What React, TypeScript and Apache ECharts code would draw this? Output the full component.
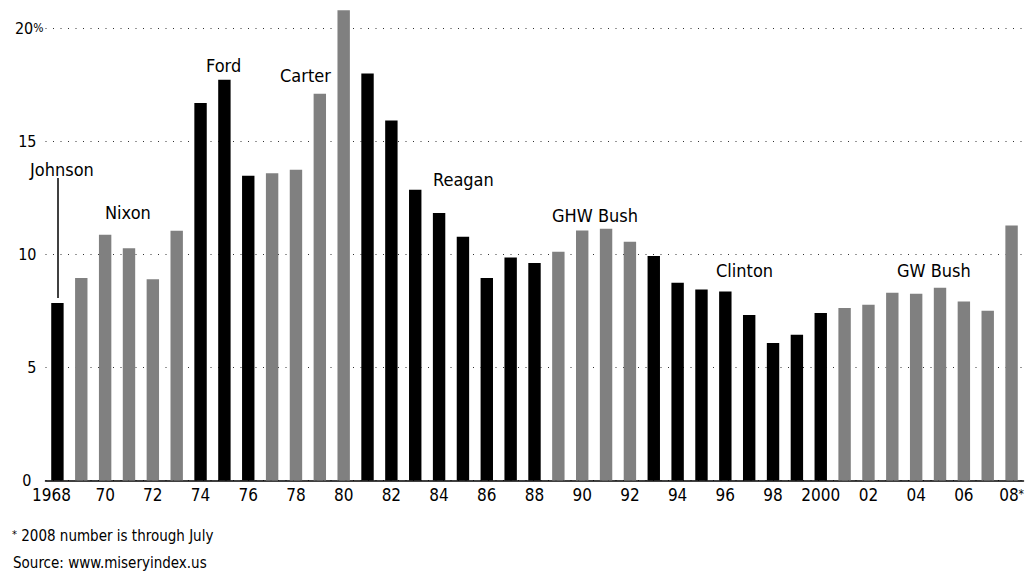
import React, { useEffect, useRef } from 'react';
import * as echarts from 'echarts';

const years = [
  '1968', '1969', '1970', '1971', '1972', '1973', '1974', '1975', '1976', '1977',
  '1978', '1979', '1980', '1981', '1982', '1983', '1984', '1985', '1986', '1987',
  '1988', '1989', '1990', '1991', '1992', '1993', '1994', '1995', '1996', '1997',
  '1998', '1999', '2000', '2001', '2002', '2003', '2004', '2005', '2006', '2007', '2008',
];
const misery = [
  7.84, 8.95, 10.86, 10.27, 8.9, 11.04, 16.69, 17.71, 13.47, 13.58,
  13.73, 17.09, 20.79, 17.99, 15.91, 12.85, 11.82, 10.77, 8.95, 9.86,
  9.61, 10.11, 11.05, 11.13, 10.55, 9.92, 8.74, 8.44, 8.35, 7.31,
  6.08, 6.44, 7.4, 7.62, 7.77, 8.3, 8.25, 8.52, 7.91, 7.5, 11.27,
];
// d = dark (black) bar, l = light (gray) bar
const shade = [
  'd', 'l', 'l', 'l', 'l', 'l', 'd', 'd', 'd', 'l',
  'l', 'l', 'l', 'd', 'd', 'd', 'd', 'd', 'd', 'd',
  'd', 'l', 'l', 'l', 'l', 'd', 'd', 'd', 'd', 'd',
  'd', 'd', 'd', 'l', 'l', 'l', 'l', 'l', 'l', 'l', 'l',
];
const yTicks = [0, 5, 10, 15, 20];
const presidents = ['Johnson', 'Nixon', 'Ford', 'Carter', 'Reagan', 'GHW Bush', 'Clinton', 'GW Bush'];
const footnote = '2008 number is through July';
const source = 'Source: www.miseryindex.us';

const FONT = "'DejaVu Sans Condensed', 'DejaVu Sans', sans-serif";
const DARK = '#000000';
const LIGHT = '#808080';

// pixel placement of the president labels (left x, vertical centre y)
const labelPos: Record<string, [number, number]> = {
  Johnson: [30, 169],
  Nixon: [105, 212],
  Ford: [206, 65],
  Carter: [280, 75],
  Reagan: [433, 179],
  'GHW Bush': [552, 215],
  Clinton: [716, 270],
  'GW Bush': [897, 270],
};

export default function App() {
  const ref = useRef<HTMLDivElement>(null);
  useEffect(() => {
    document.body.style.margin = '0';
    const chart = echarts.init(ref.current!, null, { renderer: 'svg' });
    const option: any = {
      animation: false,
      backgroundColor: '#ffffff',
      grid: { left: 45.5, right: 8.5, top: 28, bottom: 96.5, containLabel: false },
      xAxis: {
        type: 'category',
        data: years,
        boundaryGap: true,
        axisLine: { show: true, lineStyle: { color: '#000', width: 1.5 } },
        axisTick: { show: false },
        axisLabel: {
          interval: 0,
          margin: 7,
          color: '#000',
          fontFamily: FONT,
          fontSize: 17,
          lineHeight: 15,
          formatter: (v: string, i: number) => {
            if (i % 2 !== 0) return '';
            if (v === '1968') return '{f|1968}';
            if (v === '2000') return '2000';
            if (v === '2008') return '08{s|*}';
            return v.slice(2);
          },
          rich: {
            f: { fontFamily: FONT, fontSize: 17, lineHeight: 15, color: '#000', padding: [0, 12, 0, 0] },
            s: { fontFamily: FONT, fontSize: 12, color: '#000', verticalAlign: 'top', padding: [0, 0, 6, 0] },
          },
        },
        splitLine: { show: false },
      },
      yAxis: {
        type: 'value',
        min: yTicks[0],
        max: yTicks[yTicks.length - 1],
        interval: 5,
        axisLine: { show: false },
        axisTick: { show: false },
        axisLabel: {
          margin: 2,
          color: '#000',
          fontFamily: FONT,
          fontSize: 16,
          lineHeight: 12,
          formatter: (v: number) =>
            v === 20 ? '{a|20}{p|%}' : v === 0 ? '{z|0}' : '{b|' + v + '}',
          rich: {
            a: { fontFamily: FONT, fontSize: 16, lineHeight: 12, color: '#000' },
            p: { fontFamily: FONT, fontSize: 12, lineHeight: 12, color: '#000' },
            b: { fontFamily: FONT, fontSize: 16, lineHeight: 12, color: '#000', padding: [0, 7, 0, 0] },
            z: { fontFamily: FONT, fontSize: 16, lineHeight: 12, color: '#000', padding: [0, 12, 0, 0] },
          },
        },
        splitLine: {
          show: true,
          lineStyle: { color: '#333', width: 1, type: [1, 6.5] },
        },
      },
      series: [
        {
          type: 'bar',
          clip: false,
          barWidth: '52%',
          data: misery.map((v, i) => ({
            value: v,
            itemStyle: { color: shade[i] === 'd' ? DARK : LIGHT },
          })),
        },
      ],
      graphic: [
        ...presidents.map((name) => ({
          type: 'text',
          x: labelPos[name][0],
          y: labelPos[name][1],
          style: {
            text: name,
            font: `18px ${FONT}`,
            fill: '#000',
            textAlign: 'left',
            textVerticalAlign: 'middle',
          },
        })),
        {
          type: 'line',
          shape: { x1: 58, y1: 178, x2: 58, y2: 298 },
          style: { stroke: '#000', lineWidth: 1.5 },
        },
        {
          type: 'text',
          x: 12,
          y: 536,
          style: {
            text: '{s|*} ' + footnote,
            font: `15px ${FONT}`,
            fill: '#000',
            textVerticalAlign: 'middle',
            rich: {
              s: { fontSize: 11, fontFamily: FONT, fill: '#000', verticalAlign: 'top' },
            },
          },
        },
        {
          type: 'text',
          x: 13,
          y: 563,
          style: {
            text: source,
            font: `15px ${FONT}`,
            fill: '#000',
            textVerticalAlign: 'middle',
          },
        },
      ],
    };
    chart.setOption(option);
    return () => chart.dispose();
  }, []);
  return <div ref={ref} style={{ width: 1032, height: 577 }} />;
}
